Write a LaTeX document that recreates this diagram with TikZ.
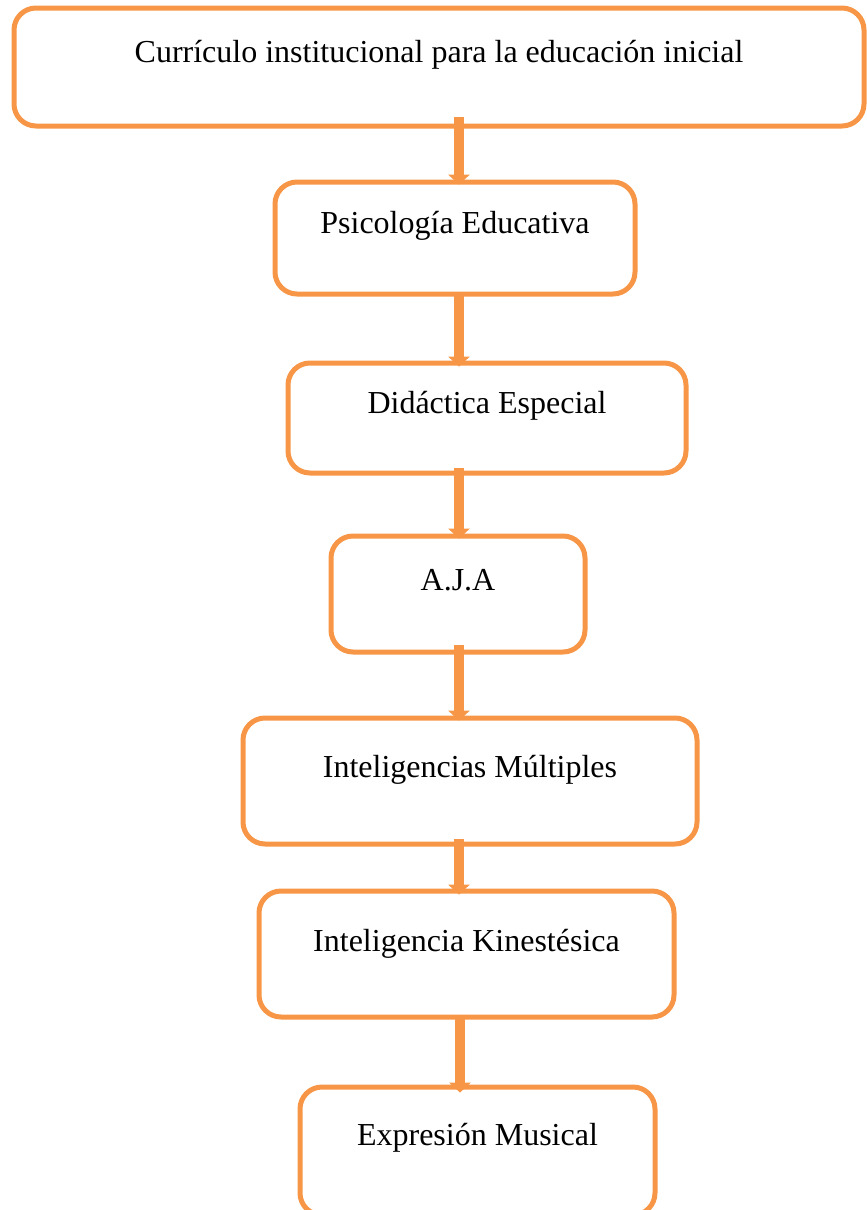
\documentclass[tikz,border=0pt]{standalone}
\usepackage{fontspec}
\setmainfont{Liberation Serif}
\usetikzlibrary{arrows.meta,calc}
\definecolor{boxorange}{HTML}{F79646}
\begin{document}
\begin{tikzpicture}[x=0.5pt,y=-0.5pt,
  flowbox/.style={draw=boxorange, line width=2.5pt, rounded corners=11pt, inner sep=0pt,
    align=center, font=\fontsize{16}{19}\selectfont, anchor=base},
  flowarrow/.style={draw=boxorange, line width=5pt,
    -{Triangle[width=11pt,length=5pt,line width=0pt]}}]
\useasboundingbox (0,0) rectangle (867,1210);
\clip (0,0) rectangle (867,1210);
\node[flowbox, minimum width=425pt, text height=27pt, text depth=32pt] (b1) at (439,62)
  {Currículo institucional para la educación inicial};
\node[flowbox, minimum width=180pt, text height=25.5pt, text depth=30.5pt] (b2) at (455,233)
  {Psicología Educativa};
\node[flowbox, minimum width=199pt, text height=25pt, text depth=30pt] (b3) at (487,413)
  {Didáctica Especial};
\node[flowbox, minimum width=127pt, text height=27pt, text depth=31pt] (b4) at (458,590)
  {A.J.A};
\node[flowbox, minimum width=227pt, text height=29.5pt, text depth=33.5pt] (b5) at (470,777)
  {Inteligencias Múltiples};
\node[flowbox, minimum width=207.5pt, text height=30pt, text depth=33pt] (b6) at (466.5,951)
  {Inteligencia Kinestésica};
\node[flowbox, minimum width=177.5pt, text height=29pt, text depth=35pt] (b7) at (477.5,1145)
  {Expresión Musical};
\coordinate (ax) at (459,0);
\coordinate (ax6) at (460,0);
\draw[flowarrow] ($(b1.south -| ax)+(0,-12)$) -- ($(b2.north -| ax)+(0,5)$);
\draw[flowarrow] ($(b2.south -| ax)+(0,-5)$) -- ($(b3.north -| ax)+(0,6)$);
\draw[flowarrow] ($(b3.south -| ax)+(0,-8)$) -- ($(b4.north -| ax)+(0,5)$);
\draw[flowarrow] ($(b4.south -| ax)+(0,-10)$) -- ($(b5.north -| ax)+(0,5)$);
\draw[flowarrow] ($(b5.south -| ax)+(0,-8)$) -- ($(b6.north -| ax)+(0,6)$);
\draw[flowarrow] ($(b6.south -| ax6)+(0,-4)$) -- ($(b7.north -| ax6)+(0,8)$);
\end{tikzpicture}
\end{document}
